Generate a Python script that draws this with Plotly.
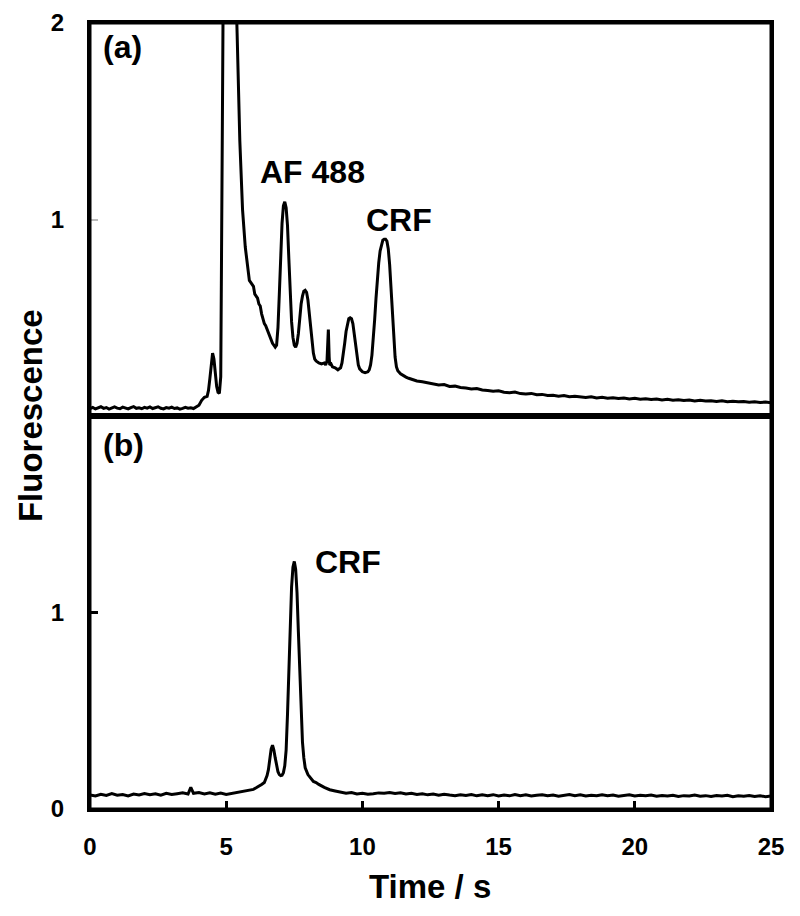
import plotly.graph_objects as go

# ---------------- data ----------------
time_a = [0.0,0.1,0.2,0.3,0.4,0.5,0.6,0.7,0.8,0.9,1.0,1.1,1.2,1.3,1.4,1.5,1.6,1.7,1.8,1.9,
          2.0,2.1,2.2,2.3,2.4,2.5,2.6,2.7,2.8,2.9,3.0,3.1,3.2,3.3,3.4,3.5,3.6,3.7,3.8,3.9,
          4.0,4.1,4.2,4.3,4.35,4.4,4.45,4.5,4.55,4.6,4.65,4.7,4.75,4.8,4.83,4.86,4.9,5.0,5.2,5.35,
          5.4,5.5,5.6,5.7,5.75,5.8,5.85,5.9,6.0,6.05,6.1,6.15,6.2,6.25,6.3,6.35,6.4,6.45,6.5,6.55,
          6.6,6.65,6.7,6.75,6.8,6.85,6.9,6.95,7.0,7.05,7.1,7.15,7.2,7.25,7.3,7.35,7.4,7.45,7.5,7.55,
          7.6,7.65,7.7,7.75,7.8,7.85,7.9,7.95,8.0,8.05,8.1,8.15,8.2,8.25,8.3,8.4,8.5,8.6,8.65,8.7,
          8.72,8.75,8.78,8.8,8.85,8.9,9.0,9.1,9.15,9.2,9.25,9.3,9.35,9.4,9.45,9.5,9.55,9.6,9.65,9.7,
          9.75,9.8,9.85,9.9,10.0,10.1,10.2,10.25,10.3,10.35,10.4,10.45,10.5,10.55,10.6,10.65,10.7,10.75,10.8,10.85,
          10.9,10.95,11.0,11.05,11.1,11.15,11.2,11.25,11.3,11.4,11.5,11.6,11.7,11.8,11.9,12.0,12.2,12.4,12.6,12.8,
          13.0,13.2,13.4,13.6,13.8,14.0,14.2,14.4,14.6,14.8,15.0,15.2,15.4,15.6,15.8,16.0,16.2,16.4,16.6,16.8,
          17.0,17.2,17.4,17.6,17.8,18.0,18.2,18.4,18.6,18.8,19.0,19.2,19.4,19.6,19.8,20.0,20.2,20.4,20.6,20.8,
          21.0,21.2,21.4,21.6,21.8,22.0,22.2,22.4,22.6,22.8,23.0,23.2,23.4,23.6,23.8,24.0,24.2,24.4,24.6,24.8,25.0]
fluor_a = [0.038,0.044,0.036,0.042,0.047,0.039,0.043,0.035,0.041,0.046,0.040,0.037,0.045,0.041,0.036,0.043,0.048,0.039,0.042,0.037,
           0.044,0.040,0.046,0.038,0.042,0.047,0.039,0.036,0.043,0.040,0.045,0.038,0.041,0.035,0.039,0.044,0.040,0.042,0.038,0.045,
           0.055,0.080,0.095,0.100,0.130,0.190,0.270,0.320,0.290,0.220,0.150,0.120,0.115,0.200,0.700,1.500,2.400,3.500,3.000,2.300,
           1.950,1.400,1.050,0.860,0.800,0.730,0.690,0.680,0.660,0.620,0.610,0.600,0.570,0.560,0.520,0.490,0.470,0.460,0.440,0.420,
           0.410,0.380,0.370,0.360,0.350,0.360,0.450,0.620,0.820,0.980,1.070,1.090,1.060,0.970,0.800,0.620,0.480,0.400,0.360,0.350,
           0.370,0.420,0.500,0.570,0.610,0.635,0.640,0.630,0.590,0.520,0.440,0.370,0.320,0.290,0.280,0.270,0.265,0.270,0.260,0.280,
           0.400,0.440,0.300,0.260,0.265,0.250,0.245,0.235,0.240,0.245,0.270,0.310,0.370,0.430,0.470,0.495,0.500,0.495,0.470,0.420,
           0.350,0.300,0.260,0.240,0.225,0.220,0.225,0.235,0.260,0.310,0.390,0.490,0.600,0.700,0.780,0.840,0.875,0.895,0.900,0.900,
           0.890,0.850,0.770,0.650,0.510,0.390,0.300,0.250,0.230,0.215,0.205,0.198,0.192,0.188,0.183,0.178,0.174,0.168,0.162,0.158,
           0.160,0.150,0.152,0.145,0.142,0.137,0.140,0.132,0.130,0.126,0.128,0.121,0.118,0.122,0.114,0.112,0.115,0.108,0.110,0.104,
           0.106,0.101,0.104,0.098,0.100,0.096,0.094,0.098,0.092,0.095,0.090,0.093,0.089,0.092,0.087,0.090,0.085,0.088,0.084,0.087,
           0.082,0.085,0.080,0.083,0.079,0.081,0.077,0.080,0.076,0.078,0.074,0.077,0.073,0.075,0.072,0.074,0.070,0.072,0.069,0.071,0.068]

time_b = [0.0,0.2,0.4,0.6,0.8,1.0,1.2,1.4,1.6,1.8,2.0,2.2,2.4,2.6,2.8,3.0,3.2,3.4,3.6,3.7,
          3.8,4.0,4.2,4.4,4.6,4.8,5.0,5.2,5.4,5.6,5.8,6.0,6.1,6.2,6.3,6.4,6.45,6.5,6.55,6.6,
          6.65,6.7,6.75,6.8,6.85,6.9,6.95,7.0,7.05,7.1,7.15,7.2,7.25,7.3,7.35,7.4,7.45,7.5,7.55,7.6,
          7.65,7.7,7.75,7.8,7.85,7.9,8.0,8.1,8.2,8.3,8.4,8.6,8.8,9.0,9.2,9.4,9.6,9.8,10.0,10.2,
          10.4,10.6,10.8,11.0,11.2,11.4,11.6,11.8,12.0,12.2,12.4,12.6,12.8,13.0,13.2,13.4,13.6,13.8,14.0,14.2,
          14.4,14.6,14.8,15.0,15.2,15.4,15.6,15.8,16.0,16.2,16.4,16.6,16.8,17.0,17.2,17.4,17.6,17.8,18.0,18.2,
          18.4,18.6,18.8,19.0,19.2,19.4,19.6,19.8,20.0,20.2,20.4,20.6,20.8,21.0,21.2,21.4,21.6,21.8,22.0,22.2,
          22.4,22.6,22.8,23.0,23.2,23.4,23.6,23.8,24.0,24.2,24.4,24.6,24.8,25.0]
fluor_b = [0.072,0.066,0.075,0.069,0.078,0.070,0.074,0.067,0.076,0.071,0.079,0.073,0.077,0.070,0.080,0.074,0.078,0.082,0.076,0.110,
           0.080,0.084,0.077,0.083,0.075,0.081,0.074,0.079,0.085,0.088,0.095,0.100,0.108,0.115,0.125,0.135,0.150,0.170,0.200,0.260,
           0.305,0.325,0.300,0.260,0.215,0.190,0.175,0.170,0.172,0.185,0.220,0.300,0.480,0.720,0.950,1.130,1.230,1.260,1.220,1.100,
           0.900,0.680,0.480,0.340,0.260,0.210,0.175,0.160,0.140,0.135,0.125,0.110,0.098,0.092,0.085,0.080,0.084,0.077,0.080,0.075,
           0.078,0.082,0.080,0.084,0.079,0.083,0.076,0.080,0.074,0.078,0.072,0.076,0.070,0.075,0.071,0.068,0.073,0.069,0.074,0.067,
           0.072,0.068,0.073,0.066,0.071,0.067,0.074,0.068,0.072,0.066,0.070,0.073,0.067,0.071,0.065,0.070,0.074,0.068,0.072,0.066,
           0.070,0.067,0.073,0.068,0.071,0.065,0.069,0.072,0.066,0.070,0.067,0.071,0.065,0.069,0.066,0.070,0.064,0.068,0.066,0.071,
           0.065,0.068,0.064,0.069,0.066,0.070,0.063,0.067,0.065,0.069,0.064,0.067,0.063,0.066]

x_ticks = [0, 5, 10, 15, 20, 25]
y_ticks_a = [1, 2]
y_ticks_b = [0, 1]

FONT = "Liberation Sans, Arial, Helvetica, sans-serif"

fig = go.Figure()
fig.add_trace(go.Scatter(x=time_a, y=fluor_a, mode="lines", xaxis="x2", yaxis="y2",
                         line=dict(color="black", width=3), showlegend=False))
fig.add_trace(go.Scatter(x=time_b, y=fluor_b, mode="lines", xaxis="x", yaxis="y",
                         line=dict(color="black", width=3), showlegend=False))

axis_common = dict(showline=True, linecolor="black", linewidth=3, mirror=True,
                   showgrid=False, zeroline=False)

frame_shapes = [
    dict(type="rect", xref="x domain", yref="y domain", x0=0, x1=1, y0=0, y1=1,
         line=dict(color="black", width=3), fillcolor="rgba(0,0,0,0)", layer="above"),
    dict(type="rect", xref="x2 domain", yref="y2 domain", x0=0, x1=1, y0=0, y1=1,
         line=dict(color="black", width=3), fillcolor="rgba(0,0,0,0)", layer="above"),
]

fig.update_layout(
    width=800, height=916,
    margin=dict(l=82, r=37, t=15, b=115, autoexpand=False),
    paper_bgcolor="white", plot_bgcolor="white",
    font=dict(family=FONT, color="black"),
    shapes=frame_shapes,
    xaxis=dict(**axis_common, domain=[0, 1], anchor="y", range=[0, 25],
               tickvals=x_ticks, ticks="inside", ticklen=8, tickwidth=3, tickcolor="black",
               ticklabelstandoff=14,
               tickfont=dict(family=FONT, size=24, weight="bold", color="black")),
    yaxis=dict(**axis_common, domain=[0, 0.5], anchor="x", range=[0, 2],
               tickvals=y_ticks_b, ticks="inside", ticklen=8, tickwidth=3, tickcolor="black",
               ticklabelstandoff=18,
               tickfont=dict(family=FONT, size=24, weight="bold", color="black")),
    xaxis2=dict(**axis_common, domain=[0, 1], anchor="y2", range=[0, 25], matches="x",
                showticklabels=False, ticks=""),
    yaxis2=dict(**axis_common, domain=[0.5, 1], anchor="x2", range=[0, 2],
                tickvals=y_ticks_a, ticks="inside", ticklen=8, tickwidth=2, tickcolor="#bbbbbb",
                ticklabelstandoff=18,
                tickfont=dict(family=FONT, size=24, weight="bold", color="black")),
    annotations=[
        dict(text="<b>(a)</b>", x=0.4, y=1.88, xref="x2", yref="y2", xanchor="left", yanchor="middle",
             showarrow=False, font=dict(family=FONT, size=32, color="black")),
        dict(text="<b>(b)</b>", x=0.4, y=1.85, xref="x", yref="y", xanchor="left", yanchor="middle",
             showarrow=False, font=dict(family=FONT, size=32, color="black")),
        dict(text="<b>AF 488</b>", x=8.17, y=1.24, xref="x2", yref="y2", xanchor="center", yanchor="middle",
             showarrow=False, font=dict(family=FONT, size=32, color="black")),
        dict(text="<b>CRF</b>", x=11.36, y=1.0, xref="x2", yref="y2", xanchor="center", yanchor="middle",
             showarrow=False, font=dict(family=FONT, size=32, color="black")),
        dict(text="<b>CRF</b>", x=9.46, y=1.255, xref="x", yref="y", xanchor="center", yanchor="middle",
             showarrow=False, font=dict(family=FONT, size=32, color="black")),
        dict(text="<b>Time / s</b>", x=0.499, y=-0.099, xref="paper", yref="paper",
             xanchor="center", yanchor="middle", showarrow=False,
             font=dict(family=FONT, size=33, color="black")),
        dict(text="<b>Fluorescence</b>", x=-0.088, y=0.5, xref="paper", yref="paper",
             xanchor="center", yanchor="middle", textangle=-90, showarrow=False,
             font=dict(family=FONT, size=33, color="black")),
    ],
)

fig.write_html("out.html")
